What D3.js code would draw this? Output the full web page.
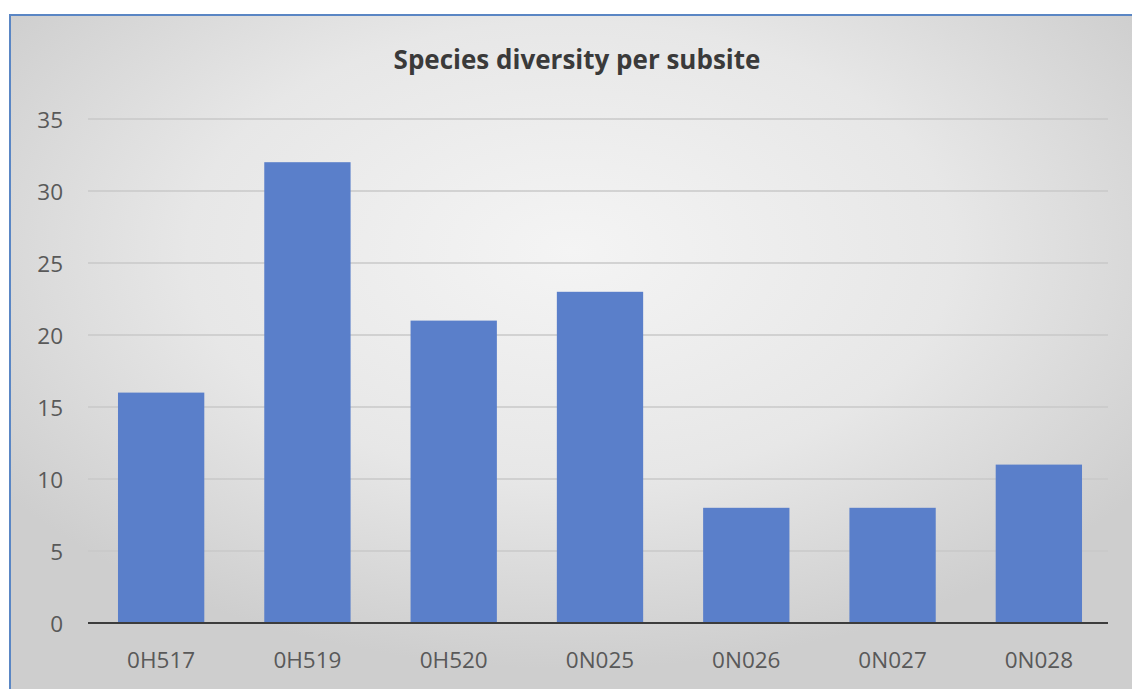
<!DOCTYPE html>
<html><head><meta charset="utf-8">
<script src="https://cdn.jsdelivr.net/npm/d3@7"></script>
<style>html,body{margin:0;padding:0;background:#fff;}svg{display:block;}</style>
</head><body>
<script>
const categories = ["0H517","0H519","0H520","0N025","0N026","0N027","0N028"];
const values = [16,32,21,23,8,8,11];
const yTicks = [0,5,10,15,20,25,30,35];
const title = "Species diversity per subsite";

const W = 1132, H = 689;
const svg = d3.select("body").append("svg").attr("width", W).attr("height", H);
const defs = svg.append("defs");
const rg = defs.append("radialGradient").attr("id","bg")
  .attr("cx","50%").attr("cy","35%").attr("r","62%");
rg.append("stop").attr("offset","0%").attr("stop-color","#f4f4f4");
rg.append("stop").attr("offset","55%").attr("stop-color","#e7e7e7");
rg.append("stop").attr("offset","100%").attr("stop-color","#cecece");

svg.append("rect").attr("x",10).attr("y",15).attr("width",W-10).attr("height",H-15)
  .attr("fill","url(#bg)");
svg.append("line").attr("x1",9).attr("x2",W).attr("y1",15).attr("y2",15)
  .attr("stroke","#5a86c4").attr("stroke-width",2);
svg.append("line").attr("x1",10).attr("x2",10).attr("y1",14).attr("y2",H)
  .attr("stroke","#5a86c4").attr("stroke-width",2);

const x = d3.scaleBand().domain(categories).range([88,1112]).paddingInner(0.41).paddingOuter(0.205);
const y = d3.scaleLinear().domain([0,35]).range([623,119]);

const font = "'Open Sans','Noto Sans',sans-serif";

// gridlines
svg.append("g").selectAll("line").data(yTicks.filter(d=>d>0)).join("line")
  .attr("x1",88).attr("x2",1108).attr("y1",d=>y(d)).attr("y2",d=>y(d))
  .attr("stroke","#c8c8c8").attr("stroke-width",1.5);

// bars
svg.append("g").selectAll("rect").data(values).join("rect")
  .attr("x",(d,i)=>x(categories[i])).attr("width",x.bandwidth())
  .attr("y",d=>y(d)).attr("height",d=>y(0)-y(d))
  .attr("fill","#5a7fca");

// axis line
svg.append("line").attr("x1",88).attr("x2",1108).attr("y1",y(0)).attr("y2",y(0))
  .attr("stroke","#3c3c3c").attr("stroke-width",2);

// y labels
const yAxis = d3.axisLeft(y).tickValues(yTicks).tickSize(0).tickPadding(0);
const gy = svg.append("g").attr("transform","translate(63,0)").call(yAxis);
gy.select(".domain").remove();
gy.selectAll("text").attr("font-family",font).attr("font-size",22.5).attr("fill","#595959").attr("dy","0.36em");

// x labels
const xAxis = d3.axisBottom(x).tickSize(0).tickPadding(0);
const gx = svg.append("g").attr("transform","translate(0,668)").call(xAxis);
gx.select(".domain").remove();
gx.selectAll("text").attr("font-family",font).attr("font-size",22.5).attr("fill","#595959").attr("dy",0);

svg.append("text").attr("x",577).attr("y",69).attr("text-anchor","middle")
  .attr("font-family",font).attr("font-size",26).attr("font-weight",700).attr("fill","#3a3a3a")
  .text(title);
</script>
</body></html>
